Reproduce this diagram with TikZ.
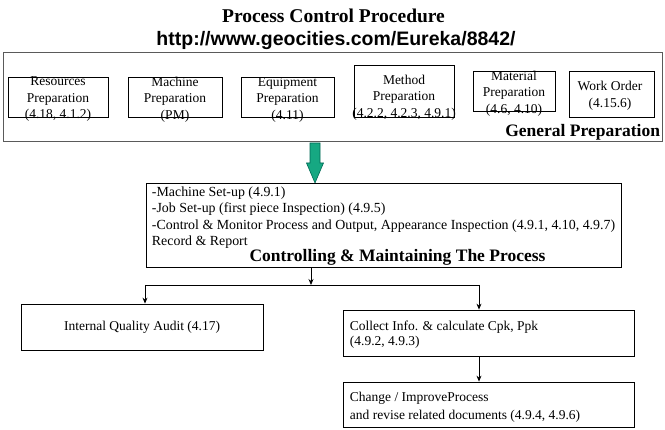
\documentclass[tikz,border=0pt]{standalone}
\usepackage{fontspec}
\setmainfont{Liberation Serif}
\newfontfamily\urlfont{Liberation Sans}
\usepackage{tikz}
\usetikzlibrary{arrows.meta}
\definecolor{arrowgreen}{RGB}{22,168,130}
\definecolor{arrowedge}{RGB}{0,105,85}
\definecolor{framegray}{RGB}{90,90,90}

\begin{document}
\begin{tikzpicture}[x=1pt,y=1pt,yscale=-1,xscale=1,
  box/.style={draw, line width=0.8pt, inner sep=0pt},
  txt/.style={inner sep=0.75pt, align=center, font=\fontsize{13.5}{16.5}\selectfont},
  head/.style={inner sep=0.75pt, font=\fontsize{17.5}{20}\selectfont\bfseries},
  arr/.style={line width=0.8pt, -{Stealth[length=6pt,width=5pt]}}]
\useasboundingbox (0,0) rectangle (665,430);

% Title
\node (title) [anchor=base, inner sep=0.75pt, font=\fontsize{19.5}{22}\selectfont\bfseries] at (333.5,23) {Process Control Procedure};
\node (url) [anchor=base, inner sep=0.75pt, font=\fontsize{19.5}{22}\selectfont\urlfont\bfseries] at (336,46) {http://www.geocities.com/Eureka/8842/};

%Shape: Rectangle (general preparation frame)
\node (genbox) [box, draw=framegray, minimum width=659, minimum height=89] at (332.5,96.5) {};
%Shape: Rectangle
\node (resbox) [box, minimum width=100, minimum height=40] at (58,97) {};
%Shape: Rectangle
\node (macbox) [box, minimum width=94, minimum height=40] at (175,97) {};
%Shape: Rectangle
\node (equbox) [box, minimum width=93, minimum height=40] at (287.5,97) {};
%Shape: Rectangle
\node (metbox) [box, minimum width=100, minimum height=52] at (404,91) {};
%Shape: Rectangle
\node (matbox) [box, minimum width=82, minimum height=40] at (514,91) {};
%Shape: Rectangle
\node (wobox) [box, minimum width=85, minimum height=46] at (611.5,94) {};

% Text Node
\node (restxt) [txt] at (58,99.5) {Resources\\Preparation\\(4.18, 4.1.2)};
% Text Node
\node (mactxt) [txt] at (175,99.5) {Machine\\Preparation\\(PM)};
% Text Node
\node (equtxt) [txt] at (287.5,99.5) {Equipment\\Preparation\\(4.11)};
% Text Node
\node (mettxt) [txt] at (404,97.5) {Method\\Preparation\\(4.2.2, 4.2.3, 4.9.1)};
% Text Node
\node (mattxt) [txt] at (514,93.5) {Material\\Preparation\\(4.6, 4.10)};
% Text Node
\node (wotxt) [txt] at (610,96) {Work Order\\(4.15.6)};
% Text Node
\node (gentxt) [head, anchor=base east] at (661,137) {General Preparation};

%Shape: Block arrow
\filldraw [fill=arrowgreen, draw=arrowedge, line width=0.6pt] (310,143) -- (320,143) -- (320,163) -- (323.5,163) -- (315,183) -- (306.5,163) -- (310,163) -- cycle ;

%Shape: Rectangle
\node (ctrl) [box, minimum width=475, minimum height=84] at (383.5,225) {};
% Text Node
\node (ctrltxt) [txt, align=left, anchor=north west, font=\fontsize{13.9}{16.4}\selectfont] at (151,186) {-Machine Set-up (4.9.1)\\-Job Set-up (first piece Inspection) (4.9.5)\\-Control \& Monitor Process and Output, Appearance Inspection (4.9.1, 4.10, 4.9.7)\\Record \& Report};
% Text Node
\node (ctrlhead) [head, anchor=base] at (397.5,262) {\underline{Controlling \& Maintaining The Process}};

%Shape: Rectangle
\node (audit) [box, minimum width=242, minimum height=46] at (142,327) {};
% Text Node
\node (audittxt) [txt] at (142,327) {Internal Quality Audit (4.17)};
%Shape: Rectangle
\node (collect) [box, minimum width=291, minimum height=46] at (488.5,333) {};
% Text Node
\node (collecttxt) [txt, align=left, anchor=west, font=\fontsize{13.5}{15}\selectfont] at (349,334.5) {Collect Info. \& calculate Cpk, Ppk\\(4.9.2, 4.9.3)};
%Shape: Rectangle
\node (change) [box, minimum width=291, minimum height=45] at (488.5,404.5) {};
% Text Node
\node (changetxt) [txt, align=left, anchor=west, font=\fontsize{13.5}{18}\selectfont] at (349,407) {Change / ImproveProcess\\and revise related documents (4.9.4, 4.9.6)};

%Straight Lines
\coordinate (split) at (311,285);
\coordinate (lsplit) at (145,285);
\coordinate (rsplit) at (479,285);
\draw [arr] (ctrl.south -| split) -- (split);
\draw [line width=0.8pt] (lsplit) -- (rsplit);
\draw [arr] (lsplit) -- (lsplit |- audit.north);
\draw [arr] (rsplit) -- (rsplit |- collect.north);
\draw [arr] (collect.south -| rsplit) -- (change.north -| rsplit);
\end{tikzpicture}
\end{document}
